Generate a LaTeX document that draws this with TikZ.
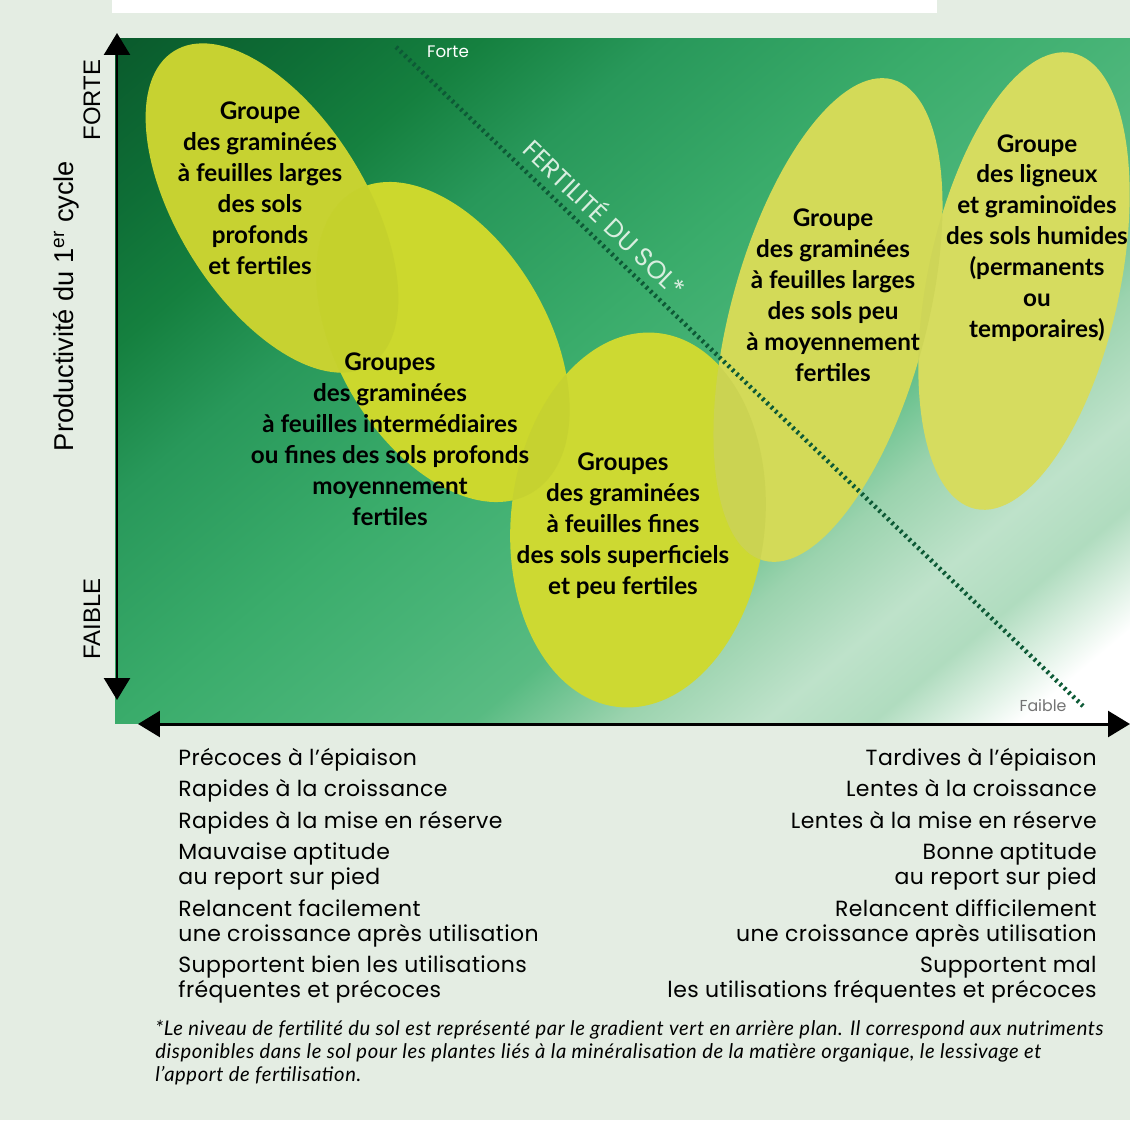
\documentclass[tikz,border=0pt]{standalone}
\usepackage{fontspec}
\setmainfont{Poppins}
\newfontfamily\traitfont{Poppins}[LetterSpace=2]
\newfontfamily\grpfont{Lato}
\newfontfamily\axisfont{Liberation Sans}
\newfontfamily\notefont{Lato}[LetterSpace=3]
\usetikzlibrary{arrows.meta,positioning}

\definecolor{pagebg}{HTML}{E4EDE3}
\definecolor{fertgreen}{HTML}{0D5A36}
\definecolor{g0}{HTML}{0A5A2C}
\definecolor{g1}{HTML}{0E6E36}
\definecolor{g2}{HTML}{15803F}
\definecolor{g3}{HTML}{28985A}
\definecolor{g4}{HTML}{3AAC6B}
\definecolor{g5}{HTML}{48B477}
\definecolor{g6}{HTML}{58BB82}
\definecolor{g7}{HTML}{9BD3AE}
\definecolor{g8}{HTML}{BEE2CA}
\definecolor{g9}{HTML}{B0DCBF}
\definecolor{g10}{HTML}{D8EEDF}
\definecolor{leafA}{HTML}{C7D231}
\definecolor{leafB}{HTML}{CCD82D}
\definecolor{leafC}{HTML}{CDD932}
\definecolor{leafD}{HTML}{D3DA58}
\definecolor{leafE}{HTML}{D6DC5F}
\definecolor{leafdark}{HTML}{9AA82A}

% fertility gradient, top left (25bp) to bottom right (75bp)
\pgfdeclarehorizontalshading{fertility}{100bp}{color(0bp)=(g0); color(25bp)=(g0);
  color(30.5bp)=(g1); color(35bp)=(g2); color(40bp)=(g3); color(47.5bp)=(g4);
  color(52.5bp)=(g5); color(57bp)=(g6); color(61bp)=(g7); color(65bp)=(g8);
  color(68bp)=(g9); color(70bp)=(g10); color(72bp)=(white); color(100bp)=(white)}

\begin{document}
\begin{tikzpicture}[x=0.02cm, y=-0.02cm,
    >={Triangle[width=14.7pt,length=12.5pt]},
    axis line/.style={<->, line width=1.7pt},
    fert line/.style={draw=fertgreen, line width=2.6pt, dash pattern=on 1.4pt off 2pt},
    leaf label/.style={font=\grpfont\bfseries\fontsize{13.8}{17.6}\selectfont, align=center, inner sep=0pt},
    axis label/.style={font=\axisfont\fontsize{13.6}{16}\selectfont, rotate=90, inner sep=0pt},
    trait list/.style={font=\traitfont\fontsize{12.5}{14.2}\selectfont, inner sep=0pt},
    overlap/.style={fill=leafdark, opacity=0.13}]

    % Background
    \useasboundingbox (0,0) rectangle (1130,1120);
    \fill[pagebg] (0,0) rectangle (1130,1120);
    \fill[white] (112,0) rectangle (937,13);

    % Green gradient
    \begin{scope}
        \clip (115,38) rectangle (1130,723);
        \shade[shading=fertility, shading angle=-50] (33.5,-208.5) rectangle (1211.5,969.5);
    \end{scope}

    % Leaves
    \fill[leafA, rotate around={-58:(272,208)}] (272,208) ellipse [x radius=185, y radius=94];
    \fill[leafB, rotate around={-59.6:(443,342)}] (443,342) ellipse [x radius=175, y radius=105];
    \fill[leafC, rotate around={84:(638,520)}] (638,520) ellipse [x radius=188, y radius=127];
    \fill[leafD, rotate around={75:(828,320)}] (828,320) ellipse [x radius=249, y radius=98];
    \fill[leafE, rotate around={78:(1024,281)}] (1024,281) ellipse [x radius=233, y radius=96];

    % Overlaps
    \begin{scope}
        \clip[rotate around={-58:(272,208)}] (272,208) ellipse [x radius=185, y radius=94];
        \fill[overlap, rotate around={-59.6:(443,342)}] (443,342) ellipse [x radius=175, y radius=105];
    \end{scope}
    \begin{scope}
        \clip[rotate around={-59.6:(443,342)}] (443,342) ellipse [x radius=175, y radius=105];
        \fill[overlap, rotate around={84:(638,520)}] (638,520) ellipse [x radius=188, y radius=127];
    \end{scope}
    \begin{scope}
        \clip[rotate around={84:(638,520)}] (638,520) ellipse [x radius=188, y radius=127];
        \fill[overlap, rotate around={75:(828,320)}] (828,320) ellipse [x radius=249, y radius=98];
    \end{scope}
    \begin{scope}
        \clip[rotate around={75:(828,320)}] (828,320) ellipse [x radius=249, y radius=98];
        \fill[overlap, rotate around={78:(1024,281)}] (1024,281) ellipse [x radius=233, y radius=96];
    \end{scope}

    % Fertility line
    \coordinate (fertTop) at (396,47);
    \coordinate (fertBot) at (1083,706);
    \draw[fert line] (fertTop) -- (fertBot);
    \node[text=white, font=\fontsize{9.5}{10}\selectfont] (forte) at (448,52) {Forte};
    \node[text=black!55, font=\fontsize{9}{10}\selectfont] (faible) at (1043,706) {Faible};
    \node[text=g10, rotate=-43.8, font=\fontsize{14.5}{16}\selectfont] (fertility) at (606,217) {FERTILITÉ DU SOL*};

    % Axes
    \coordinate (yTop) at (117,33);
    \coordinate (yBot) at (117,700);
    \coordinate (xLeft) at (138,724);
    \coordinate (xRight) at (1130,724);
    \draw[axis line] (yBot) -- (yTop);
    \draw[axis line] (xLeft) -- (xRight);
    \node[axis label] (forteY) at (92,100) {FORTE};
    \node[axis label] (faibleY) at (92,619) {FAIBLE};
    \node[axis label, font=\axisfont\fontsize{15.5}{18}\selectfont] (prod) at (66,306) {Productivité du 1\textsuperscript{er} cycle};

    % Groups
    \node[leaf label] (grpLarge) at (260,188) {Groupe\\des graminées\\à feuilles larges\\des sols\\profonds\\et fertiles};
    \node[leaf label] (grpInter) at (390,439) {Groupes\\des graminées\\à feuilles intermédiaires\\ou fines des sols profonds\\moyennement\\fertiles};
    \node[leaf label] (grpFine) at (623,526) {Groupes\\des graminées\\à feuilles fines\\des sols superficiels\\et peu fertiles};
    \node[leaf label] (grpPeu) at (833,295) {Groupe\\des graminées\\à feuilles larges\\des sols peu\\à moyennement\\fertiles};
    \node[leaf label] (grpHumide) at (1037,238) {Groupe\\des ligneux\\et graminoïdes\\des sols humides\\(permanents\\ou\\temporaires)};

    % Traits
    \node[trait list, align=left, anchor=north west] (early) at (178,748)
        {Précoces à l’épiaison\\[3.7pt]Rapides à la croissance\\[3.7pt]Rapides à la mise en réserve\\[3.7pt]Mauvaise aptitude\\au report sur pied\\[3.7pt]Relancent facilement\\une croissance après utilisation\\[3.7pt]Supportent bien les utilisations\\fréquentes et précoces};
    \node[trait list, align=right, anchor=north east] (late) at (1097,748)
        {Tardives à l’épiaison\\[3.7pt]Lentes à la croissance\\[3.7pt]Lentes à la mise en réserve\\[3.7pt]Bonne aptitude\\au report sur pied\\[3.7pt]Relancent difficilement\\une croissance après utilisation\\[3.7pt]Supportent mal\\les utilisations fréquentes et précoces};

    % Footnote
    \node[font=\notefont\itshape\fontsize{11.5}{13}\selectfont, align=left, anchor=north west, inner sep=0pt] (note) at (155,1020)
        {*Le niveau de fertilité du sol est représenté par le gradient vert en arrière plan. Il correspond aux nutriments\\disponibles dans le sol pour les plantes liés à la minéralisation de la matière organique, le lessivage et\\l’apport de fertilisation.};

\end{tikzpicture}
\end{document}
